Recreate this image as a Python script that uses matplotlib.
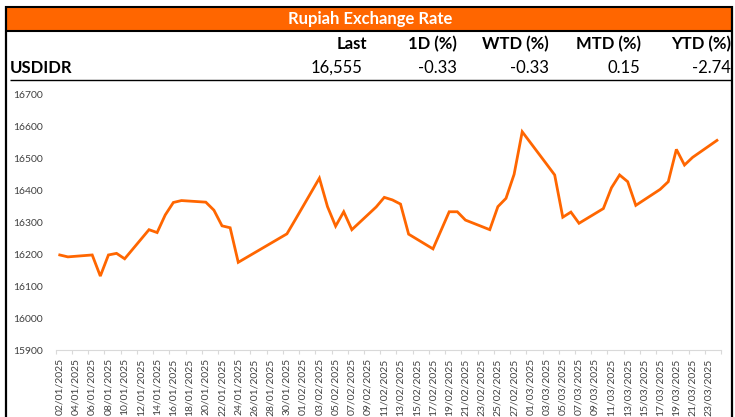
import matplotlib
matplotlib.use("Agg")
import matplotlib.pyplot as plt
import matplotlib.dates as mdates
from matplotlib.lines import Line2D
from matplotlib.patches import Rectangle
import pandas as pd
import numpy as np

# ---------------- data ----------------
title = "Rupiah Exchange Rate"
col_headers = ["Last", "1D (%)", "WTD (%)", "MTD (%)", "YTD (%)"]
row_label = "USDIDR"
row_values = ["16,555", "-0.33", "-0.33", "0.15", "-2.74"]

dates = ["2025-01-02", "2025-01-03", "2025-01-06", "2025-01-07", "2025-01-08",
         "2025-01-09", "2025-01-10", "2025-01-13", "2025-01-14", "2025-01-15",
         "2025-01-16", "2025-01-17", "2025-01-20", "2025-01-21", "2025-01-22",
         "2025-01-23", "2025-01-24", "2025-01-30", "2025-01-31", "2025-02-03",
         "2025-02-04", "2025-02-05", "2025-02-06", "2025-02-07", "2025-02-10",
         "2025-02-11", "2025-02-12", "2025-02-13", "2025-02-14", "2025-02-17",
         "2025-02-18", "2025-02-19", "2025-02-20", "2025-02-21", "2025-02-24",
         "2025-02-25", "2025-02-26", "2025-02-27", "2025-02-28", "2025-03-03",
         "2025-03-04", "2025-03-05", "2025-03-06", "2025-03-07", "2025-03-10",
         "2025-03-11", "2025-03-12", "2025-03-13", "2025-03-14", "2025-03-17",
         "2025-03-18", "2025-03-19", "2025-03-20", "2025-03-21", "2025-03-24"]
usdidr = [16197, 16191, 16197, 16131, 16197,
          16202, 16185, 16276, 16267, 16322,
          16361, 16367, 16362, 16337, 16288,
          16282, 16174, 16263, 16306, 16437,
          16348, 16287, 16332, 16276, 16347,
          16377, 16369, 16356, 16262, 16216,
          16274, 16332, 16332, 16306, 16276,
          16348, 16374, 16449, 16582, 16481,
          16447, 16315, 16331, 16296, 16342,
          16407, 16447, 16426, 16352, 16402,
          16426, 16527, 16478, 16502, 16555]
y_ticks = [15900, 16000, 16100, 16200, 16300, 16400, 16500, 16600, 16700]
x_first_label = "2025-01-02"
x_last_label = "2025-03-23"

# ---------------- figure ----------------
W, H = 735, 417
fig = plt.figure(figsize=(W / 100, H / 100), dpi=100)
fig.patch.set_facecolor("white")
FONT = ["Lato", "DejaVu Sans"]
ORANGE = "#FF6600"


def fx(px):
    return px / W


def fy(py):
    return 1 - py / H


def hline(x0, x1, y, lw=1.0, color="black"):
    fig.add_artist(Line2D([fx(x0), fx(x1)], [fy(y), fy(y)], lw=lw, color=color,
                          transform=fig.transFigure, solid_capstyle="butt"))


def vline(x, y0, y1, lw=1.0, color="black"):
    fig.add_artist(Line2D([fx(x), fx(x)], [fy(y0), fy(y1)], lw=lw, color=color,
                          transform=fig.transFigure, solid_capstyle="butt"))


# title bar
fig.add_artist(Rectangle((fx(6), fy(31)), fx(732) - fx(6), fy(7) - fy(31),
                         facecolor=ORANGE, edgecolor="none", transform=fig.transFigure))
hline(5, 733, 7, lw=1.5)
hline(5, 733, 31, lw=1.5)
vline(6, 6, 417, lw=1.6)
vline(732, 6, 417, lw=1.6)
hline(10, 732, 80, lw=1.0)

fig.text(fx(370), fy(19), title, ha="center", va="center", color="white",
         fontsize=12, fontweight="bold", family=FONT)

col_right = [367, 457, 549, 641, 731]
val_right = [362, 457, 549, 640, 731]
for hdr, xr in zip(col_headers, col_right):
    fig.text(fx(xr), fy(44), hdr, ha="right", va="center", color="black",
             fontsize=12, fontweight="bold", family=FONT)
fig.text(fx(10), fy(68), row_label, ha="left", va="center", color="black",
         fontsize=12, fontweight="bold", family=FONT)
for v, xr in zip(row_values, val_right):
    fig.text(fx(xr), fy(68), v, ha="right", va="center", color="black",
             fontsize=12, family=FONT)

# ---------------- chart ----------------
ax = fig.add_axes([fx(55.7), fy(350), fx(721) - fx(55.7), fy(94) - fy(350)])
xd = mdates.date2num(pd.to_datetime(dates))
ax.plot(xd, usdidr, color=ORANGE, lw=2.0, solid_joinstyle="miter")

d0 = mdates.date2num(pd.Timestamp("2025-01-02"))
d_end = mdates.date2num(pd.Timestamp("2025-03-24"))
ax.set_xlim(d0 - 0.5, d_end + 0.5)
ax.set_ylim(y_ticks[0], y_ticks[-1])

label_dates = pd.date_range(x_first_label, x_last_label, freq="2D")
ld = mdates.date2num(label_dates)
ax.set_xticks(ld)
ax.set_xticklabels([d.strftime("%d/%m/%Y") for d in label_dates], rotation=90,
                   fontsize=7.5, color="#404040", family=FONT)
ax.set_xticks(np.append(ld - 1, ld[-1] + 1) + 0.5, minor=True)
ax.tick_params(axis="x", which="major", length=0, pad=6)
ax.tick_params(axis="x", which="minor", length=3, color="#D9D9D9", width=0.8)

ax.set_yticks(y_ticks)
ax.set_yticklabels([str(v) for v in y_ticks], fontsize=7.5, color="#404040", family=FONT)
ax.tick_params(axis="y", length=0, pad=9)

for s in ["top", "right", "left"]:
    ax.spines[s].set_visible(False)
ax.spines["bottom"].set_color("#D9D9D9")
ax.spines["bottom"].set_linewidth(0.8)
ax.set_facecolor("none")

fig.savefig("out.png", dpi=100, facecolor="white")
